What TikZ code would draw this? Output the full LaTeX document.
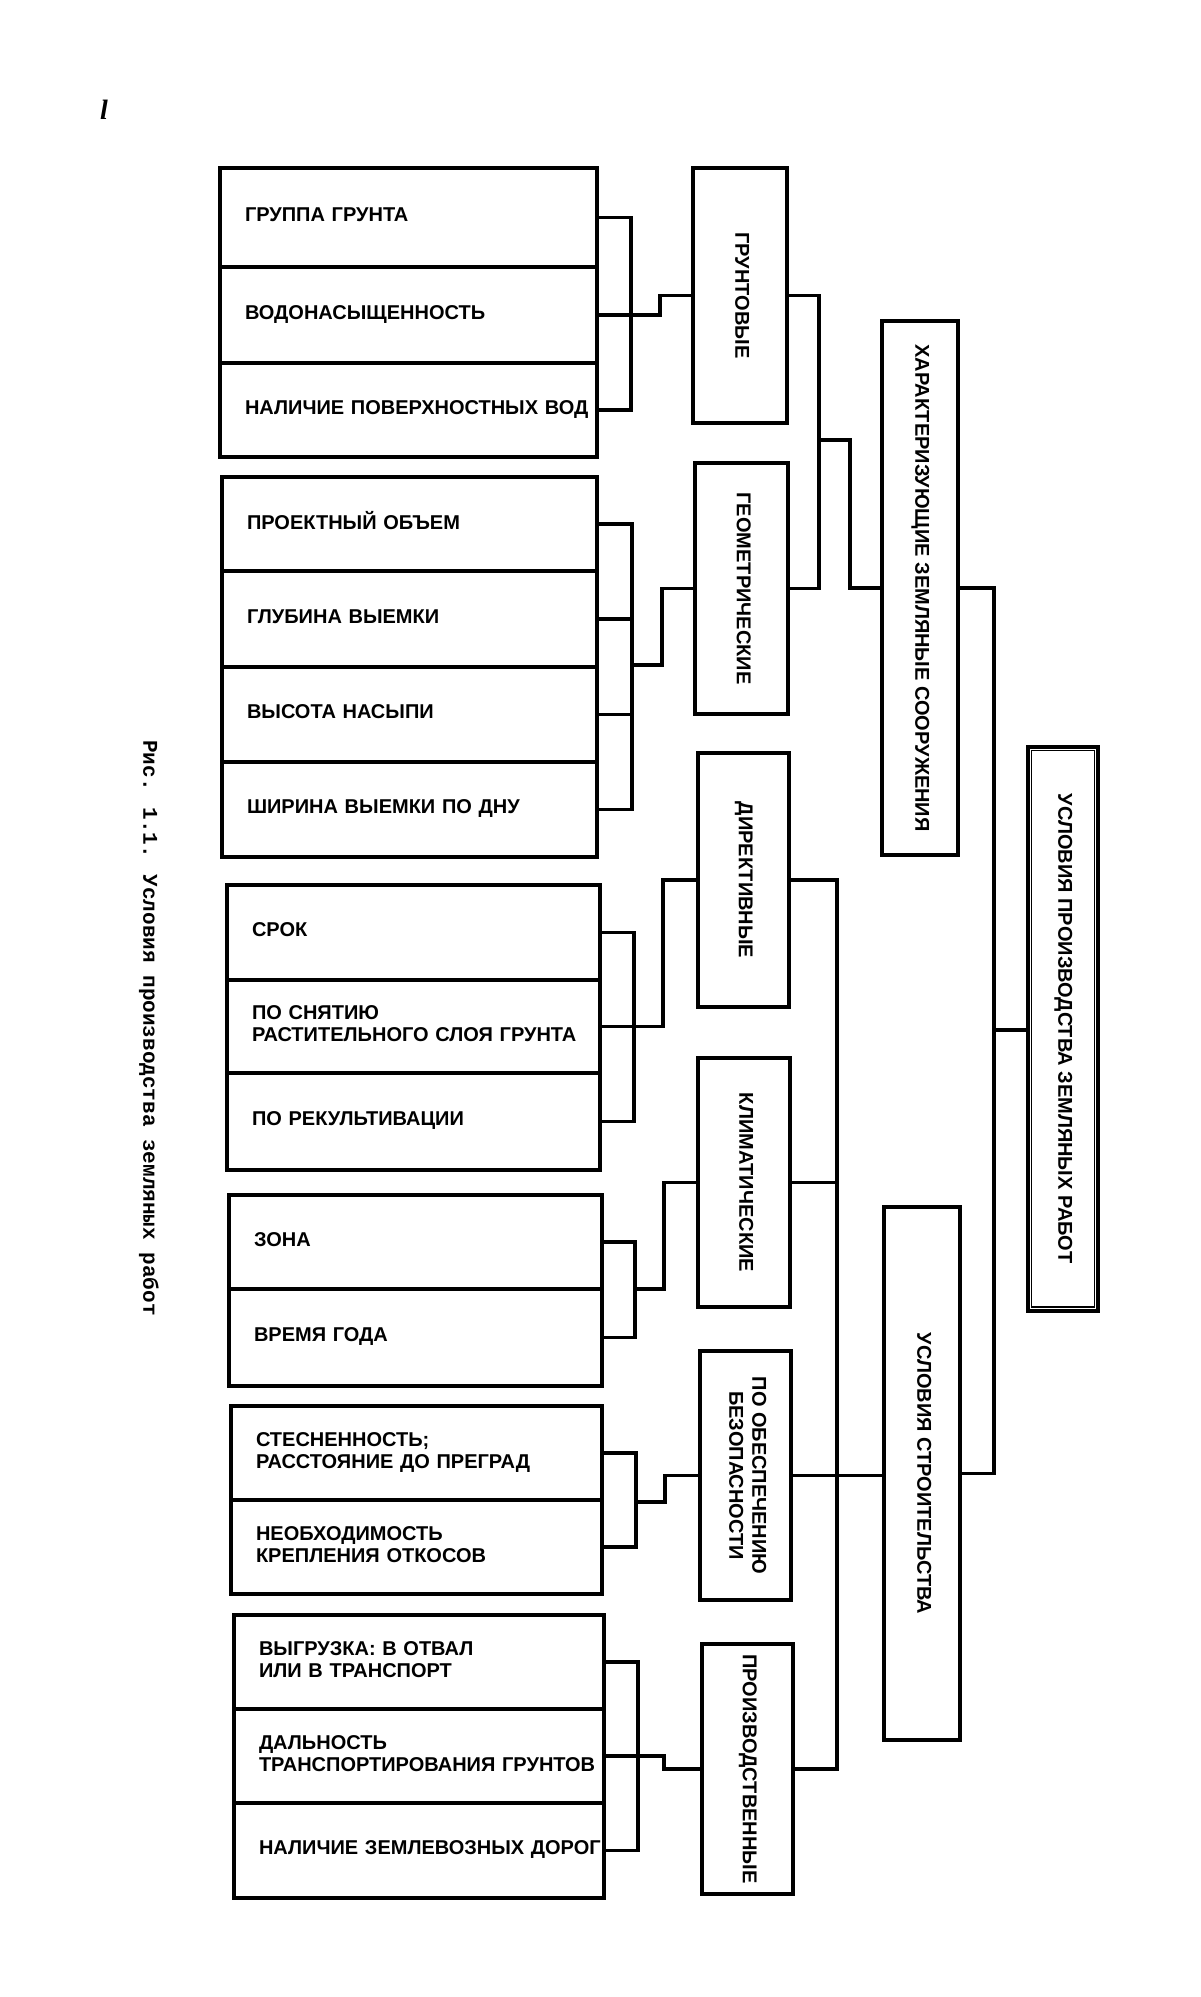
\documentclass[tikz,border=0pt]{standalone}
\usepackage{fontspec}
\usepackage{graphicx}
\setmainfont{Liberation Sans}
\newfontfamily\capfont{Liberation Mono}
\newfontfamily\markfont{Liberation Serif}
\usetikzlibrary{calc}
\newcommand\ct[1]{\begin{tabular}{@{\hspace{25pt}}l@{}}#1\end{tabular}}
\newcommand\vt[1]{\rotatebox{-90}{\begin{tabular}{@{}c@{}}#1\end{tabular}}}
\begin{document}
\begin{tikzpicture}[x=1pt,y=-1pt,
  cell/.style={draw, line width=3.5pt, inner sep=0pt, align=left,
    font=\bfseries\fontsize{20}{22}\selectfont},
  cat/.style={draw, line width=3.5pt, inner sep=0pt,
    font=\bfseries\fontsize{20}{23}\selectfont},
  wire/.style={line width=3.5pt}]
\fill[white] (0,0) rectangle (1200,1997);
\useasboundingbox (0,0) rectangle (1200,1997);

% mark and caption
\node[font=\markfont\bfseries\itshape\fontsize{28}{30}\selectfont, inner sep=0pt] (mark) at (104,110) {l};
\node[font=\capfont\bfseries\fontsize{21}{24}\selectfont, rotate=-90, inner sep=0pt] (cap) at (149,1028) {Рис. 1.1. Условия производства земляных работ};

% group 1
\node[cell, text width=377pt, minimum height=99pt] (c11) at (408.5,217.5) {\ct{ГРУППА ГРУНТА}};
\node[cell, text width=377pt, minimum height=96pt] (c12) at (408.5,315) {\ct{ВОДОНАСЫЩЕННОСТЬ}};
\node[cell, text width=377pt, minimum height=94pt] (c13) at (408.5,410) {\ct{НАЛИЧИЕ ПОВЕРХНОСТНЫХ ВОД}};
% group 2
\node[cell, text width=375pt, minimum height=94pt] (c21) at (409.5,524) {\ct{ПРОЕКТНЫЙ ОБЪЕМ}};
\node[cell, text width=375pt, minimum height=96pt] (c22) at (409.5,619) {\ct{ГЛУБИНА ВЫЕМКИ}};
\node[cell, text width=375pt, minimum height=95pt] (c23) at (409.5,714.5) {\ct{ВЫСОТА НАСЫПИ}};
\node[cell, text width=375pt, minimum height=95pt] (c24) at (409.5,809.5) {\ct{ШИРИНА ВЫЕМКИ ПО ДНУ}};
% group 3
\node[cell, text width=373pt, minimum height=95pt] (c31) at (413.5,932.5) {\ct{СРОК}};
\node[cell, text width=373pt, minimum height=93pt] (c32) at (413.5,1026.5) {\ct{ПО СНЯТИЮ\\РАСТИТЕЛЬНОГО СЛОЯ ГРУНТА}};
\node[cell, text width=373pt, minimum height=97pt] (c33) at (413.5,1121.5) {\ct{ПО РЕКУЛЬТИВАЦИИ}};
% group 4
\node[cell, text width=373pt, minimum height=94pt] (c41) at (415.5,1242) {\ct{ЗОНА}};
\node[cell, text width=373pt, minimum height=97pt] (c42) at (415.5,1337.5) {\ct{ВРЕМЯ ГОДА}};
% group 5
\node[cell, text width=371pt, minimum height=94pt] (c51) at (416.5,1453) {\ct{СТЕСНЕННОСТЬ;\\РАССТОЯНИЕ ДО ПРЕГРАД}};
\node[cell, text width=371pt, minimum height=94pt] (c52) at (416.5,1547) {\ct{НЕОБХОДИМОСТЬ\\КРЕПЛЕНИЯ ОТКОСОВ}};
% group 6
\node[cell, text width=370pt, minimum height=94pt] (c61) at (419,1662) {\ct{ВЫГРУЗКА: В ОТВАЛ\\ИЛИ В ТРАНСПОРТ}};
\node[cell, text width=370pt, minimum height=94pt] (c62) at (419,1756) {\ct{ДАЛЬНОСТЬ\\ТРАНСПОРТИРОВАНИЯ ГРУНТОВ}};
\node[cell, text width=370pt, minimum height=95pt] (c63) at (419,1850.5) {\ct{НАЛИЧИЕ ЗЕМЛЕВОЗНЫХ ДОРОГ}};

% categories
\node[cat, minimum width=94pt, minimum height=255pt] (k1) at (740,295.5) {\vt{ГРУНТОВЫЕ}};
\node[cat, minimum width=93pt, minimum height=251pt] (k2) at (741.5,588.5) {\vt{ГЕОМЕТРИЧЕСКИЕ}};
\node[cat, minimum width=91pt, minimum height=254pt] (k3) at (743.5,880) {\vt{ДИРЕКТИВНЫЕ}};
\node[cat, minimum width=92pt, minimum height=249pt] (k4) at (744,1182.5) {\vt{КЛИМАТИЧЕСКИЕ}};
\node[cat, minimum width=91pt, minimum height=249pt] (k5) at (745.5,1475.5) {\vt{ПО ОБЕСПЕЧЕНИЮ\\БЕЗОПАСНОСТИ}};
\node[cat, minimum width=91pt, minimum height=250pt] (k6) at (747.5,1769) {\vt{ПРОИЗВОДСТВЕННЫЕ}};

% level 2
\node[cat, minimum width=76pt, minimum height=534pt] (m1) at (920,588) {\vt{ХАРАКТЕРИЗУЮЩИЕ ЗЕМЛЯНЫЕ СООРУЖЕНИЯ}};
\node[cat, minimum width=76pt, minimum height=533pt] (m2) at (922,1473.5) {\vt{УСЛОВИЯ СТРОИТЕЛЬСТВА}};

% root
\node[cat, line width=4.5pt, minimum width=70pt, minimum height=564pt] (root) at (1063,1028.75) {\vt{УСЛОВИЯ ПРОИЗВОДСТВА ЗЕМЛЯНЫХ РАБОТ}};
\draw[line width=1.3pt] ([shift={(6pt,-6pt)}]root.north west) rectangle ([shift={(-6pt,6pt)}]root.south east);

% connectors group 1
\draw[wire] (c11.east) -- ++(32,0) |- (c13.east);
\draw[wire] (c12.east) -- ++(61,0) |- (k1.west);
% group 2
\draw[wire] (c21.east) -- ++(33,0) |- (c24.east);
\draw[wire] (c22.east) -- ++(33,0);
\draw[wire] (c23.east) -- ++(33,0);
\draw[wire] ([xshift=33pt,yshift=4pt]c22.south east) -- ++(30,0) |- (k2.west);
% group 3
\draw[wire] (c31.east) -- ++(32,0) |- (c33.east);
\draw[wire] (c32.east) -- ++(61,0) |- (k3.west);
% group 4
\draw[wire] (c41.east) -- ++(31,0) |- (c42.east);
\draw[wire] ([xshift=31pt,yshift=2pt]c41.south east) -- ++(29,0) |- (k4.west);
% group 5
\draw[wire] (c51.east) -- ++(32,0) |- (c52.east);
\draw[wire] ([xshift=32pt]c51.south east) -- ++(29,0) |- (k5.west);
% group 6
\draw[wire] (c61.east) -- ++(32,0) |- (c63.east);
\draw[wire] (c62.east) -- ++(58,0) |- (k6.west);

% categories to level 2
\draw[wire] (k1.east) -- ++(30,0) |- (k2.east);
\coordinate (j1) at (817,440);
\draw[wire] (j1) -- ++(33,0) |- (m1.west);
\draw[wire] (k3.east) -- ++(46,0) |- (k6.east);
\draw[wire] (k4.east) -- ++(45,0);
\draw[wire] (k5.east) -- (k5.east -| m2.west);

% level 2 to root
\draw[wire] (m1.east) -- ++(34,0) |- (m2.east);
\coordinate (j2) at (992,1030);
\draw[wire] (j2) -- (j2 -| root.west);
\end{tikzpicture}
\end{document}
